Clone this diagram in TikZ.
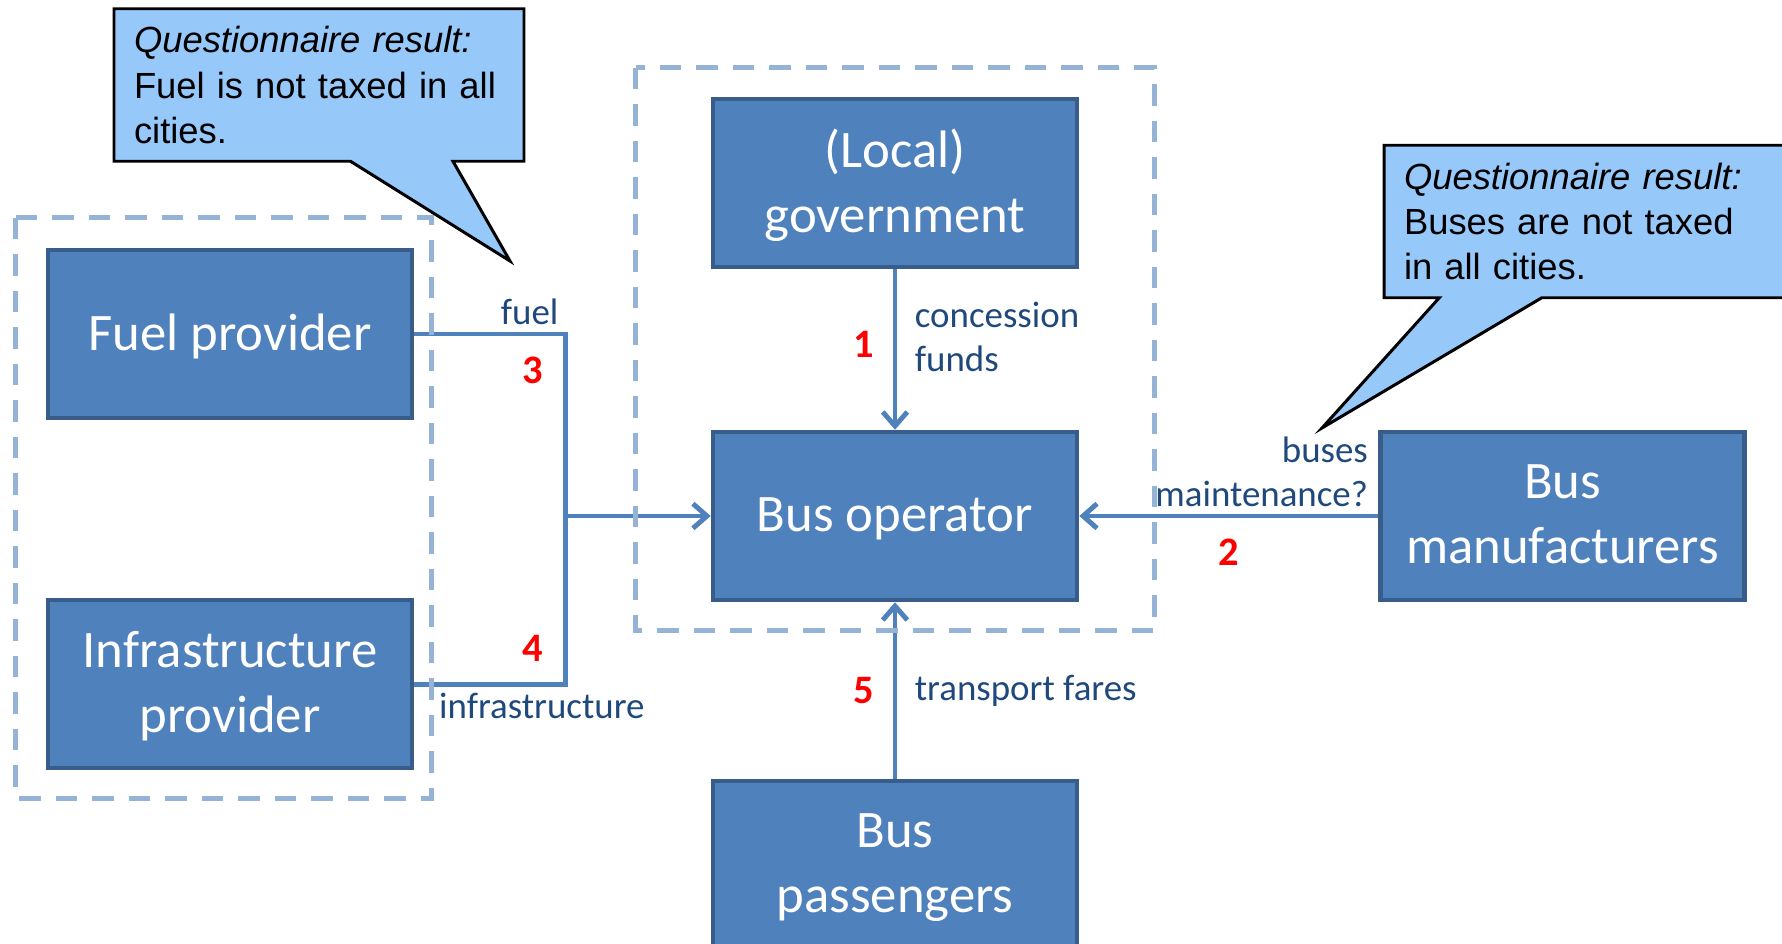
\documentclass[tikz,border=0pt]{standalone}
\usepackage{fontspec}
\setmainfont{Carlito}
\newfontfamily\notefont{Liberation Sans}
\usetikzlibrary{arrows.meta,positioning,calc,shapes.callouts}
\definecolor{boxfill}{HTML}{4F81BD}
\definecolor{boxline}{HTML}{385D8A}
\definecolor{groupline}{HTML}{95B3D7}
\definecolor{lbltext}{HTML}{1F497D}
\definecolor{notefill}{RGB}{150,200,250}
\tikzset{
    %Define standard arrow tip
    >={Straight Barb[length=8pt,width=14pt]},
    %Define style for boxes
    actor/.style={
           rectangle,
           draw=boxline, line width=2.6pt,
           fill=boxfill,
           minimum width=7.28cm,
           minimum height=3.36cm,
           text depth=2pt,
           align=center,
           text=white,
           font=\fontsize{30}{37}\selectfont},
    group/.style={
           draw=groupline, line width=3pt,
           dash pattern=on 0.43cm off 0.3cm},
    % Define arrow style
    flow/.style={
           draw=boxfill,
           line width=2.8pt},
    lbl/.style={
           text=lbltext,
           inner sep=2pt,
           align=left,
           font=\fontsize{21}{25}\selectfont},
    num/.style={
           text=red,
           font=\fontsize{23}{27}\selectfont\bfseries},
    note/.style={
           rectangle callout,
           draw=black, line width=1.7pt,
           fill=notefill,
           callout pointer width=2.05cm,
           inner xsep=0.4cm,
           text width=7.4cm,
           minimum height=3.05cm,
           align=left,
           font=\notefont\fontsize{20.7}{25.8}\selectfont}
}
\begin{document}
\begin{tikzpicture}
\useasboundingbox (0,0) rectangle (35.64,-18.88);

% actors
\node[actor] (op) at (17.9,-10.32) {Bus operator};
\node[actor, above=3.21cm of op] (gov) {(Local)\\government};
\node[actor, below=3.53cm of op] (pass) {Bus\\passengers};
\node[actor, right=5.98cm of op] (manu) {Bus\\manufacturers};
\node[actor] (fuel) at (4.6,-6.68) {Fuel provider};
\node[actor, below=3.55cm of fuel] (infra) {Infrastructure\\provider};

% flows
\coordinate (bend) at ([xshift=3.02cm]fuel.east);
\coordinate (lowbend) at (bend |- infra.east);
\coordinate (fork) at (bend |- op.west);
\draw[flow] (fuel.east) -| (fork) |- (infra.east);
\draw[flow,->] (fork) -- (op.west);
\draw[flow,->] (gov) -- (op);
\draw[flow,->] (pass) -- (op);
\draw[flow,->] (manu) -- (op);

% labels
\coordinate (mid1) at ($(gov.south)!0.5!(op.north)$);
\coordinate (mid2) at ($(op.east)!0.5!(manu.west)$);
\coordinate (mid5) at ($(op.south)!0.5!(pass.north)$);
\node[lbl, anchor=south east] (fuellbl) at ([xshift=-0.06cm,yshift=0.1cm]bend) {fuel};
\node[num] (n3) at ($(bend)+(-0.66,-0.72)$) {3};
\node[num] (n4) at ($(lowbend)+(-0.66,0.72)$) {4};
\node[lbl, anchor=north west] (infralbl) at ([xshift=0.42cm,yshift=-0.1cm]infra.east) {infrastructure};
\node[num] (n1) at ($(mid1)+(-0.62,0.1)$) {1};
\node[lbl, anchor=west] (conclbl) at ($(mid1)+(0.32,0.25)$) {concession\\funds};
\node[num] (n5) at ($(mid5)+(-0.62,0)$) {5};
\node[lbl, anchor=west] (farelbl) at ($(mid5)+(0.32,0)$) {transport fares};
\node[num] (n2) at ($(mid2)+(0,-0.72)$) {2};
\node[lbl, align=right, anchor=south east] (buslbl) at ($(manu.west)+(-0.13,0.1)$) {buses\\maintenance?};

% groups
\draw[group] ($(gov.north west)+(-1.5,0.58)$) rectangle ($(op.south east)+(1.5,-0.56)$);
\draw[group] ($(fuel.north west)+(-0.6,0.6)$) rectangle ($(infra.south east)+(0.34,-0.56)$);

% questionnaire notes
\node[note, callout absolute pointer={(10.2,-5.22)}] (fuelnote) at (6.38,-1.7)
    {\textit{Questionnaire result:}\\Fuel is not taxed in all\\cities.};
\node[note, callout absolute pointer={(26.44,-8.56)}] (busnote) at (31.78,-4.43)
    {\textit{Questionnaire result:}\\Buses are not taxed\\in all cities.};
\end{tikzpicture}
\end{document}
